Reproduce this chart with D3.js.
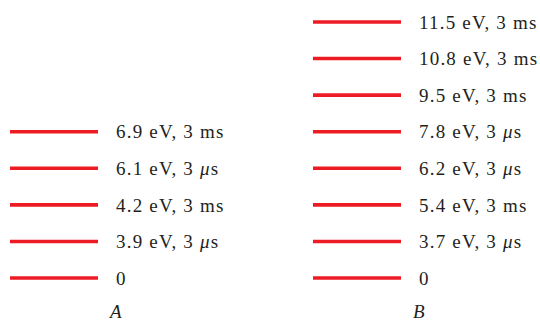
<!DOCTYPE html>
<html><head><meta charset="utf-8">
<script src="https://cdn.jsdelivr.net/npm/d3@7/dist/d3.min.js"></script>
<style>html,body{margin:0;padding:0;background:#fff;}svg{display:block;}</style>
</head><body><div id="chart"></div>
<script>
const panels = ["A", "B"];
const energiesA = [0, 3.9, 4.2, 6.1, 6.9];
const lifetimesA = ["", "3 μs", "3 ms", "3 μs", "3 ms"];
const energiesB = [0, 3.7, 5.4, 6.2, 7.8, 9.5, 10.8, 11.5];
const lifetimesB = ["", "3 μs", "3 ms", "3 μs", "3 μs", "3 ms", "3 ms", "3 ms"];

const W = 540, H = 323;
const svg = d3.select("#chart").append("svg").attr("width", W).attr("height", H);

const x = d3.scalePoint().domain(panels).range([10, 313]);
const y = d3.scaleLinear().domain([0, 7]).range([278, 22]);
const lineLen = 88;
const red = "#ed1c24";
const textColor = "#231f20";
const font = "'Liberation Serif', 'Times New Roman', Times, serif";

const data = [
  { panel: "A", energies: energiesA, lifetimes: lifetimesA },
  { panel: "B", energies: energiesB, lifetimes: lifetimesB }
];

data.forEach(d => {
  const g = svg.append("g");
  const levels = d.energies.map((e, i) => ({ e, t: d.lifetimes[i], i }));
  g.selectAll("line").data(levels).join("line")
    .attr("x1", x(d.panel)).attr("x2", x(d.panel) + lineLen)
    .attr("y1", v => y(v.i)).attr("y2", v => y(v.i))
    .attr("stroke", red).attr("stroke-width", 3.6);
  const txt = g.selectAll("text.lbl").data(levels).join("text")
    .attr("class", "lbl")
    .attr("x", x(d.panel) + 106)
    .attr("y", v => y(v.i))
    .attr("dy", "0.35em")
    .attr("font-family", font).attr("font-size", 19)
    .attr("letter-spacing", "1.2px")
    .attr("fill", textColor);
  txt.each(function(v) {
    const t = d3.select(this);
    if (v.e === 0) { t.text("0"); return; }
    const parts = v.t.split(" ");
    t.append("tspan").text(d3.format(".1f")(v.e) + " eV, " + parts[0] + " ");
    if (parts[1] === "μs") {
      t.append("tspan").attr("font-style", "italic").text("μ");
      t.append("tspan").text("s");
    } else {
      t.append("tspan").text(parts[1]);
    }
  });
  g.append("text")
    .attr("x", x(d.panel) + 100).attr("y", 318)
    .attr("font-family", font).attr("font-size", 19)
    .attr("font-style", "italic").attr("fill", textColor)
    .text(d.panel);
});
</script></body></html>
